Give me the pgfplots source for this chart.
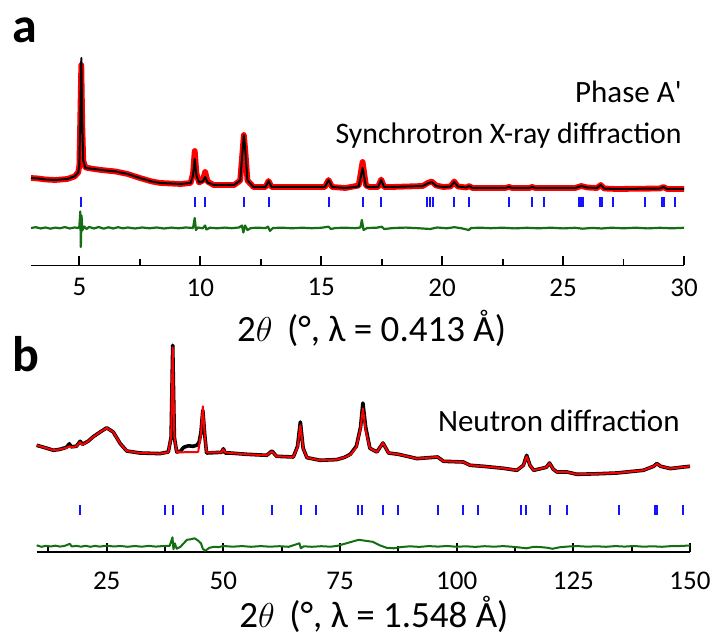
\documentclass[border=0pt]{standalone}
\usepackage{pgfplots}
\pgfplotsset{compat=1.18}
\usepackage{fontspec}
\setmainfont{Carlito}
\definecolor{dgreen}{RGB}{20,110,20}
\definecolor{pblue}{RGB}{20,20,255}
\begin{document}
\begin{tikzpicture}
\useasboundingbox (0,0) rectangle (356.5pt,321pt);
\pgfplotsset{
  myax/.style={
    scale only axis, anchor=south west,
    axis x line*=bottom, hide y axis,
    ymin=0, clip=false,
    tick align=inside,
    major tick length=4.5pt, minor tick length=3pt,
    every tick/.style={black, line width=0.9pt},
    x axis line style={line width=0.9pt},
    /pgf/number format/assume math mode=true,
    xticklabel style={font=\fontsize{13.5}{15}\selectfont, anchor=north, inner sep=0pt},
  }
}
% ---------------- panel a ----------------
\begin{axis}[myax, at={(15.5pt,188.25pt)}, width=326.5pt, height=110pt,
  xmin=3, xmax=30, ymax=220,
  xtick={5,10,15,20,25,30},
  minor xtick={7.5,12.5,17.5,22.5,27.5},
  xticklabel style={yshift=-6.3pt}]
% observed (red)
\addplot[red, line width=2.9pt, line join=round] coordinates {
(3.0,87.5)(3.3,87)(3.6,86)(4.0,85.5)(4.5,86.5)(4.8,89)(4.95,93)(5.0,100)(5.04,150)(5.08,200.5)(5.12,140)(5.16,105)(5.25,98)(5.6,96.5)(5.9,95.5)(6.5,94)(7.0,91.5)(7.5,87.5)(8.0,84)(8.35,82.5)(9.2,81.5)(9.6,82.5)(9.7,92)(9.77,114.5)(9.84,92)(9.95,83)(10.1,85)(10.2,93.5)(10.3,84)(10.55,80.5)(11.4,80.5)(11.65,85)(11.75,115)(11.8,130.5)(11.86,115)(11.95,85)(12.2,78.5)(12.7,78.5)(12.82,84.5)(12.95,78.5)(13.2,78.5)(14.1,78.5)(15.15,78.5)(15.3,85.5)(15.45,78.5)(16.0,77.5)(16.55,80)(16.71,103.5)(16.85,80)(17.0,78.5)(17.35,78.5)(17.48,86)(17.6,78.5)(17.9,78.5)(19.2,79.5)(19.4,82.5)(19.57,84)(19.75,80)(20.05,78.5)(20.35,79)(20.5,84)(20.65,79)(21.0,78)(21.12,79.5)(21.25,77.5)(22.6,77.5)(22.77,78.5)(22.9,77.5)(23.6,77.5)(23.72,78.5)(23.85,77.5)(25.5,77.5)(25.75,79.5)(26.0,78)(26.4,77.5)(26.56,80.5)(26.7,77)(27.2,76.5)(29.0,77)(29.15,78.5)(29.3,76.5)(30.0,76.5)};
% calculated (black)
\addplot[black, line width=1.0pt, line join=round] coordinates {
(3.0,87.5)(3.3,87)(3.6,86)(4.0,85.5)(4.5,86.5)(4.8,89)(4.95,93)(5.0,100)(5.04,150)(5.08,207.5)(5.12,140)(5.16,105)(5.25,97.5)(5.6,96.5)(5.9,95.5)(6.5,94)(7.0,91.5)(7.5,87.5)(8.0,84)(8.35,82.5)(9.2,81.5)(9.6,82.5)(9.7,90)(9.77,106.5)(9.84,90)(9.95,83)(10.1,84)(10.2,88.5)(10.3,83)(10.55,80.5)(11.4,80.5)(11.65,85)(11.75,115)(11.8,130.5)(11.86,115)(11.95,85)(12.2,78.5)(12.7,78.5)(12.82,84.5)(12.95,78.5)(13.2,78.5)(14.1,78.5)(15.15,78.5)(15.3,85.5)(15.45,78.5)(16.0,77.5)(16.55,79)(16.71,97.5)(16.85,79)(17.0,78.5)(17.35,78.5)(17.48,85.5)(17.6,78.5)(17.9,78.5)(19.2,79.5)(19.4,82)(19.57,83.5)(19.75,79.5)(20.05,78.5)(20.35,79)(20.5,83.5)(20.65,79)(21.0,78)(21.12,79.5)(21.25,77.5)(22.6,77.5)(22.77,78.5)(22.9,77.5)(23.6,77.5)(23.72,78.5)(23.85,77.5)(25.5,77.5)(25.75,79.5)(26.0,78)(26.4,77.5)(26.56,80.5)(26.7,77)(27.2,76.5)(29.0,77)(29.15,78.5)(29.3,76.5)(30.0,76.5)};
% reflection positions
\addplot[pblue, only marks, mark=|, mark size=2.5pt, mark options={line width=1pt}] coordinates {
(5.08,63.5)(9.79,63.5)(10.21,63.5)(11.82,63.5)(12.86,63.5)(15.33,63.5)(16.71,63.5)(17.48,63.5)(19.39,63.5)(19.50,63.5)(19.61,63.5)(20.50,63.5)(21.12,63.5)(22.77,63.5)(23.72,63.5)(24.23,63.5)(25.65,63.5)(25.73,63.5)(25.84,63.5)(26.53,63.5)(26.60,63.5)(27.08,63.5)(28.39,63.5)(29.10,63.5)(29.19,63.5)(29.63,63.5)};
% difference
\addplot[dgreen, line width=1.1pt, line join=round] coordinates {
(3.0,37.5)(3.2,38.3)(3.4,37)(3.6,38)(3.8,36.8)(4.0,37.9)(4.2,37.2)(4.4,38.4)(4.6,37)(4.8,38)(4.95,37.5)(5.0,39)(5.04,54)(5.06,18.5)(5.09,50)(5.12,35)(5.2,39)(5.3,36.5)(5.4,38.6)(5.6,37)(5.8,38.5)(6.0,36.8)(6.2,38.2)(6.4,37)(6.6,38.3)(6.8,37.1)(7.0,38)(7.3,37)(7.6,38)(7.9,37.2)(8.2,38)(8.5,37)(8.8,37.9)(9.1,37.2)(9.4,38)(9.7,37.5)(9.77,47.5)(9.82,35.5)(9.9,38)(10.1,37.2)(10.2,40)(10.25,36)(10.4,37.8)(10.7,37.2)(11.0,37.9)(11.3,37.3)(11.6,38)(11.72,40)(11.78,33)(11.85,40)(11.95,35.5)(12.1,37.5)(12.4,37.8)(12.7,37.4)(12.8,38.8)(12.88,34.5)(13.0,37.5)(13.4,37.8)(13.8,37.2)(14.2,37.8)(14.6,37.3)(15.0,37.7)(15.3,38.8)(15.4,36.5)(15.6,37.5)(16.0,37.8)(16.4,37.3)(16.62,38)(16.68,45.5)(16.75,35.5)(16.9,37.5)(17.3,37.8)(17.5,38.8)(17.6,36.5)(18.0,37.5)(18.5,37.9)(19.0,37.3)(19.5,36.5)(19.8,38)(20.2,37.2)(20.5,38.3)(20.8,37.2)(21.1,35.5)(21.2,37.5)(21.6,37.8)(22.0,37.3)(22.5,37.8)(23.0,37.1)(23.5,37.7)(24.0,37.2)(24.5,37.8)(25.0,37.1)(25.5,37.7)(25.8,36.8)(26.2,37.6)(26.6,37)(27.0,37.8)(27.5,37.2)(28.0,37.8)(28.5,37.1)(29.0,37.7)(29.5,37.2)(30.0,37.7)};
\end{axis}
% ---------------- panel b ----------------
\begin{axis}[myax, at={(18.35pt,44.85pt)}, width=326.65pt, height=106pt,
  xmin=10, xmax=150, ymax=212,
  xtick={25,50,75,100,125,150},
  minor xtick={12.5,37.5,62.5,87.5,112.5,137.5},
  xticklabel style={yshift=-9.7pt}]
% observed (black)
\addplot[black, line width=1.8pt, line join=round] coordinates {
(10,107)(11.5,105)(13.6,102)(15,103)(16.4,105)(17.0,108.5)(17.4,105.5)(18.5,106)(19.3,111)(19.8,108)(21,111)(22.1,115.5)(23.5,120)(25,124.5)(26.4,120.3)(27.9,108.7)(29.3,101.3)(32.1,99.3)(36.4,98.7)(38.2,100.3)(38.8,115)(39.15,207)(39.5,115)(40.0,100.3)(40.8,101)(41.5,105)(42.5,106.5)(43.5,106)(44.3,107)(44.8,110)(45.2,120)(45.6,142)(46.0,118)(46.4,99.3)(49.6,100)(50.0,103.5)(50.4,99.3)(51.4,99.3)(55,98)(59.3,97)(60.4,101.3)(61.4,96)(65,95.3)(65.9,106)(66.5,130.3)(67.1,104)(67.9,94.7)(70.7,92)(74.3,92.7)(76,95)(77.2,98)(78.5,106)(79.4,125)(79.9,149.3)(80.5,125)(81.4,104)(82.9,100.3)(84.2,109.3)(85.4,99.3)(87.5,98)(91.5,93.7)(95.9,95.3)(97.2,91)(101.4,90.3)(102.9,87)(105.7,86)(110,84)(112.9,82)(114.3,87)(115.0,97)(115.7,87)(116.5,82)(119.2,85)(119.9,89.3)(120.7,83)(121.5,80.3)(123.6,80.3)(125.8,78)(130,78.5)(134.3,79.3)(140,82)(142.2,86)(142.9,88.7)(143.7,86)(145.8,83.7)(148,85)(150,86)};
% calculated (red)
\addplot[red, line width=1.0pt, line join=round] coordinates {
(10,107)(11.5,105)(13.6,102)(15,103)(16.4,104.5)(17.0,106)(17.4,105)(18.5,106)(19.3,110)(19.8,107.5)(21,111)(22.1,115.3)(23.5,120)(25,124.3)(26.4,120.3)(27.9,108.7)(29.3,101.3)(32.1,99.3)(36.4,98.7)(38.2,100)(38.8,115)(39.15,205)(39.5,115)(40.0,100.3)(41.1,100)(44.6,100.3)(45.2,118)(45.6,146)(46.0,118)(46.4,100)(49.6,100)(50.0,103)(50.4,100)(51.4,99.3)(55,98)(59.3,97)(60.4,101)(61.4,96)(65,95.3)(65.9,105)(66.5,127)(67.1,104)(67.9,94.7)(70.7,92)(74.3,92.7)(76,95)(77.2,97.5)(78.5,105)(79.4,124)(79.9,143.7)(80.5,122)(81.4,104)(82.9,100.3)(84.2,109.3)(85.4,99.3)(87.5,98)(91.5,93.7)(95.9,95.3)(97.2,91)(101.4,90.3)(102.9,87)(105.7,86)(110,84)(112.9,82)(114.3,87)(115.0,96)(115.7,87)(116.5,82)(119.2,85)(119.9,89)(120.7,83)(121.5,80.3)(123.6,80.3)(125.8,78)(130,78.5)(134.3,79.3)(140,82)(142.2,86)(142.9,88.5)(143.7,86)(145.8,83.7)(148,85)(150,86)};
% reflection positions
\addplot[pblue, only marks, mark=|, mark size=2.5pt, mark options={line width=1pt}] coordinates {
(19.3,42)(37.5,42)(39.15,42)(45.7,42)(49.9,42)(60.4,42)(66.6,42)(69.8,42)(78.9,42)(79.7,42)(84.2,42)(87.5,42)(95.9,42)(101.4,42)(104.6,42)(113.8,42)(114.9,42)(119.9,42)(123.7,42)(134.7,42)(142.5,42)(142.9,42)(148.5,42)};
% difference
\addplot[dgreen, line width=1.0pt, line join=round] coordinates {
(10,7)(11,5.5)(12,6.5)(13,5.8)(14,6.6)(15,5.7)(16,6.4)(17.1,8.5)(17.5,5.8)(18.5,6.4)(19.5,5.6)(20.5,6.5)(21.5,5.5)(22.5,6.4)(23.5,5.7)(25,6.6)(26.5,5.8)(28,6.3)(29.5,5.5)(31,6.3)(32.5,5.6)(34,6.4)(35.5,5.7)(37,6.2)(38.5,6.5)(39.1,15)(39.3,3)(39.6,9)(40,3.5)(40.8,5.5)(41.5,9)(42.2,12.5)(43,13)(43.8,14)(44.5,12)(45.2,9)(45.6,3.5)(46.1,1.5)(47,4.5)(48,5.5)(49,5.2)(50,6.3)(52,5.6)(54,6.2)(56,5.5)(58,6.2)(60,5.6)(62,6.1)(64,5.5)(66.3,9)(66.6,4)(67.2,6)(69,5.5)(71,6.1)(73,5.6)(74.5,6.5)(76,8.5)(77.5,10.5)(79,12.5)(80.5,11.5)(82,10.5)(83.5,7)(85,4.5)(86.5,4)(88,5.2)(90,6)(92,5.4)(94,6.2)(96,5.7)(98,6.3)(100,5.5)(102,6)(104,5.4)(106,6.1)(108,5.6)(110,6.2)(112,5.5)(113.5,4.8)(115,4)(116.5,5.5)(118,5.2)(119.5,4.5)(120.5,3.5)(122,5)(124,5.8)(126,6.2)(128,5.6)(130,6)(132,5.5)(134,6.2)(136,5.7)(138,6.3)(140,5.6)(142,6)(144,5.5)(146,6.2)(148,6.3)(150,6.8)};
\end{axis}
% ---------------- texts ----------------
\node[anchor=base west, inner sep=0pt, font=\fontsize{25}{28}\selectfont\bfseries] at (6pt,299.5pt) {a};
\node[anchor=base west, inner sep=0pt, font=\fontsize{25}{28}\selectfont\bfseries] at (6pt,135pt) {b};
\node[anchor=base east, inner sep=0pt, font=\fontsize{15.5}{18}\selectfont] at (341pt,269.5pt) {Phase A\textquotesingle};
\node[anchor=base east, inner sep=0pt, font=\fontsize{14.9}{17}\selectfont] at (341pt,249pt) {Synchrotron X-ray diffraction};
\node[anchor=base east, inner sep=0pt, font=\fontsize{15.5}{18}\selectfont] at (340pt,105pt) {Neutron diffraction};
\node[anchor=base west, inner sep=0pt, font=\fontsize{18.5}{21}\selectfont] at (118.35pt,150.15pt) {2$\theta$\ \,(°, λ = 0.413 Å)};
\node[anchor=base west, inner sep=0pt, font=\fontsize{18.5}{21}\selectfont] at (119.5pt,7pt) {2$\theta$\ \,(°, λ = 1.548 Å)};
\end{tikzpicture}
\end{document}
